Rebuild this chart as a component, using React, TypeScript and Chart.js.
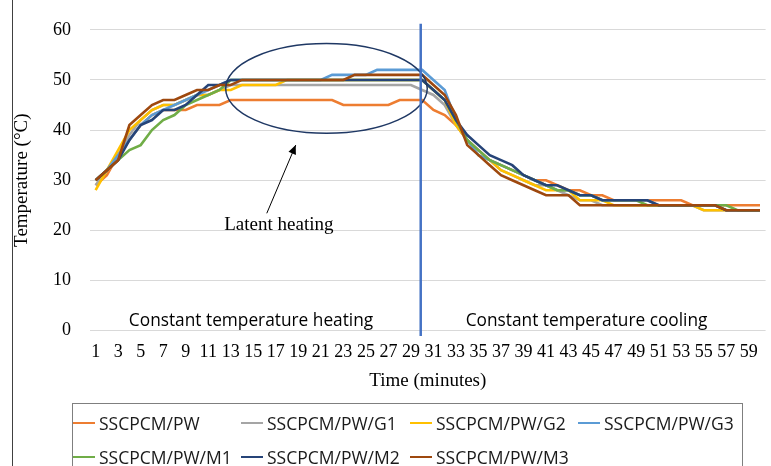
import React, { useEffect, useRef } from 'react';
import { Chart, registerables } from 'chart.js';

Chart.register(...registerables);

const timeLabels = [
  '1','2','3','4','5','6','7','8','9','10','11','12','13','14','15','16','17','18','19','20',
  '21','22','23','24','25','26','27','28','29','30','31','32','33','34','35','36','37','38','39','40',
  '41','42','43','44','45','46','47','48','49','50','51','52','53','54','55','56','57','58','59','60',
];

const pwData = [
  29,31,35,38,41,43,44,44,44,45, 45,45,46,46,46,46,46,46,46,46,
  46,46,45,45,45,45,45,46,46,46, 44,43,41,38,36,34,33,32,31,30,
  30,29,28,28,27,27,26,26,26,26, 26,26,26,25,25,25,25,25,25,25,
];
const g1Data = [
  29,32,35,39,42,44,45,45,46,47, 47,48,49,49,49,49,49,49,49,49,
  49,49,49,49,49,49,49,49,49,48, 47,45,41,38,36,34,32,31,30,29,
  29,28,27,26,26,25,25,25,25,25, 25,25,25,25,24,24,24,24,24,24,
];
const g2Data = [
  28,32,36,40,42,44,45,45,46,47, 47,48,48,49,49,49,49,50,50,50,
  50,50,50,50,50,50,50,50,50,50, 48,46,41,38,35,34,32,31,30,29,
  28,28,28,26,26,26,25,25,25,25, 25,25,25,25,24,24,24,24,24,24,
];
const g3Data = [
  30,32,35,38,41,43,44,45,46,47, 48,49,50,50,50,50,50,50,50,50,
  50,51,51,51,51,52,52,52,52,52, 50,48,42,38,35,34,33,32,31,30,
  29,28,28,27,27,26,26,26,26,26, 25,25,25,25,25,25,24,24,24,24,
];
const m1Data = [
  30,32,34,36,37,40,42,43,45,46, 47,48,50,50,50,50,50,50,50,50,
  50,50,50,50,50,50,50,50,50,50, 48,46,42,38,36,34,33,32,31,30,
  29,28,28,27,27,26,26,26,26,25, 25,25,25,25,25,25,25,24,24,24,
];
const m2Data = [
  30,32,34,38,41,42,44,44,45,47, 49,49,50,50,50,50,50,50,50,50,
  50,50,50,50,50,50,50,50,50,50, 48,46,42,39,37,35,34,33,31,30,
  29,29,28,27,27,26,26,26,26,26, 25,25,25,25,25,25,24,24,24,24,
];
const m3Data = [
  30,32,34,41,43,45,46,46,47,48, 48,49,49,50,50,50,50,50,50,50,
  50,50,50,51,51,51,51,51,51,51, 49,47,43,37,35,33,31,30,29,28,
  27,27,27,25,25,25,25,25,25,25, 25,25,25,25,25,25,24,24,24,24,
];

const seriesNames = ['SSCPCM/PW','SSCPCM/PW/G1','SSCPCM/PW/G2','SSCPCM/PW/G3','SSCPCM/PW/M1','SSCPCM/PW/M2','SSCPCM/PW/M3'];
const seriesData = [pwData, g1Data, g2Data, g3Data, m1Data, m2Data, m3Data];
const seriesColors = ['#ED7D31','#A5A5A5','#FFC000','#5B9BD5','#70AD47','#264478','#9E480E'];

const yTitle = 'Temperature (°C)';
const xTitle = 'Time (minutes)';
const heatingText = 'Constant temperature heating';
const coolingText = 'Constant temperature cooling';
const latentText = 'Latent heating';

const SERIF = '"Liberation Serif", "Times New Roman", serif';
const SANS = '"Open Sans", "Noto Sans", sans-serif';

const annotationPlugin = {
  id: 'annotationsCustom',
  afterDatasetsDraw(chart: any) {
    const { ctx, scales } = chart;
    const x = scales.x;
    const y = scales.y;
    const px = (i: number) => x.getPixelForValue(i);
    const py = (v: number) => y.getPixelForValue(v);
    ctx.save();

    // ellipse around latent heating plateau
    const cx = px(20.5), cy = py(48.3);
    const rx = px(20.5 + 8.95) - cx;
    const ry = py(48.3 - 8.95) - cy;
    ctx.beginPath();
    ctx.ellipse(cx, cy, rx, ry, 0, 0, Math.PI * 2);
    ctx.strokeStyle = '#1F3864';
    ctx.lineWidth = 1.5;
    ctx.stroke();

    // vertical separator
    const vx = px(28.87);
    ctx.beginPath();
    ctx.moveTo(vx, py(61.2));
    ctx.lineTo(vx, py(-1.1));
    ctx.strokeStyle = '#4472C4';
    ctx.lineWidth = 2.5;
    ctx.stroke();

    // arrow
    const ax0 = px(15.2), ay0 = py(23.4);
    const ax1 = px(17.77), ay1 = py(37.0);
    ctx.beginPath();
    ctx.moveTo(ax0, ay0);
    ctx.lineTo(ax1, ay1);
    ctx.strokeStyle = '#000';
    ctx.lineWidth = 1;
    ctx.stroke();
    const ang = Math.atan2(ay1 - ay0, ax1 - ax0);
    const hl = 9, hw = 4;
    ctx.beginPath();
    ctx.moveTo(ax1, ay1);
    ctx.lineTo(ax1 - hl * Math.cos(ang) + hw * Math.sin(ang), ay1 - hl * Math.sin(ang) - hw * Math.cos(ang));
    ctx.lineTo(ax1 - hl * Math.cos(ang) - hw * Math.sin(ang), ay1 - hl * Math.sin(ang) + hw * Math.cos(ang));
    ctx.closePath();
    ctx.fillStyle = '#000';
    ctx.fill();

    // texts
    ctx.fillStyle = '#000';
    ctx.textAlign = 'center';
    ctx.textBaseline = 'middle';
    ctx.font = '19px ' + SERIF;
    ctx.fillText(latentText, px(16.27), py(21.0));
    ctx.font = '17.3px ' + SANS;
    ctx.fillText(heatingText, px(13.8), py(2.0));
    ctx.fillText(coolingText, px(43.6), py(2.0));

    ctx.restore();
  },
  afterDraw(chart: any) {
    const { ctx } = chart;
    ctx.save();
    ctx.beginPath();
    ctx.moveTo(12.5, 0);
    ctx.lineTo(12.5, chart.height);
    ctx.strokeStyle = '#404040';
    ctx.lineWidth = 1;
    ctx.stroke();
    ctx.restore();
  },
};

const legendCols = [0, 168, 337, 505];
const legendRows = [19, 53];

export default function App() {
  const canvasRef = useRef<HTMLCanvasElement | null>(null);

  useEffect(() => {
    const canvas = canvasRef.current;
    if (!canvas) return;
    const chart = new Chart(canvas, {
      type: 'line',
      data: {
        labels: timeLabels,
        datasets: seriesNames.map((name, i) => ({
          label: name,
          data: seriesData[i],
          borderColor: seriesColors[i],
          backgroundColor: seriesColors[i],
          borderWidth: 2.6,
          pointRadius: 0,
          tension: 0,
          fill: false,
          order: seriesNames.length - i,
        })),
      },
      options: {
        animation: false,
        responsive: false,
        maintainAspectRatio: false,
        layout: { padding: { top: 26.6, right: 1, bottom: 71, left: 0 } },
        plugins: { legend: { display: false }, tooltip: { enabled: false } },
        scales: {
          x: {
            type: 'category',
            offset: true,
            grid: { display: false, drawTicks: false },
            border: { display: false },
            ticks: {
              autoSkip: false,
              maxRotation: 0,
              minRotation: 0,
              padding: 11,
              color: '#000',
              font: { family: SERIF, size: 18 },
              callback: (_v: any, i: number) => (i % 2 === 0 ? timeLabels[i] : ''),
            },
            title: {
              display: true,
              text: xTitle,
              color: '#000',
              font: { family: SERIF, size: 19 },
              padding: { top: 0, bottom: 2.6 },
            },
            afterFit: (s: any) => { s.height = 64.4; },
          },
          y: {
            min: 0,
            max: 60,
            ticks: { stepSize: 10, padding: 19, color: '#000', font: { family: SERIF, size: 18 } },
            grid: { color: '#d9d9d9', drawTicks: false, lineWidth: 1 },
            border: { display: false },
            title: {
              display: true,
              text: yTitle,
              color: '#000',
              font: { family: SERIF, size: 19 },
              padding: { top: 10.6, bottom: 0 },
            },
            afterFit: (s: any) => { s.width = 90; },
          },
        },
      },
      plugins: [annotationPlugin],
    } as any);
    return () => chart.destroy();
  }, []);

  return (
    <div style={{ position: 'fixed', left: 0, top: 0, width: 771, height: 466, overflow: 'hidden', background: '#fff' }}>
      <canvas ref={canvasRef} width={771} height={466} style={{ display: 'block', position: 'absolute', left: 0, top: 0 }} />
      <div style={{ position: 'absolute', left: 72, top: 403, width: 671, height: 80, border: '1px solid #7f7f7f', boxSizing: 'border-box' }}>
        {seriesNames.map((name, i) => {
          const col = legendCols[i < 4 ? i : i - 4];
          const row = legendRows[i < 4 ? 0 : 1];
          return (
            <React.Fragment key={name}>
              <span style={{ position: 'absolute', left: col, top: row - 1.25, width: 22, height: 2.5, background: seriesColors[i] }} />
              <span style={{ position: 'absolute', left: col + 26, top: row - 12, height: 24, lineHeight: '24px', fontFamily: SANS, fontSize: 17.5, color: '#1a1a1a', whiteSpace: 'nowrap' }}>{name}</span>
            </React.Fragment>
          );
        })}
      </div>
    </div>
  );
}
